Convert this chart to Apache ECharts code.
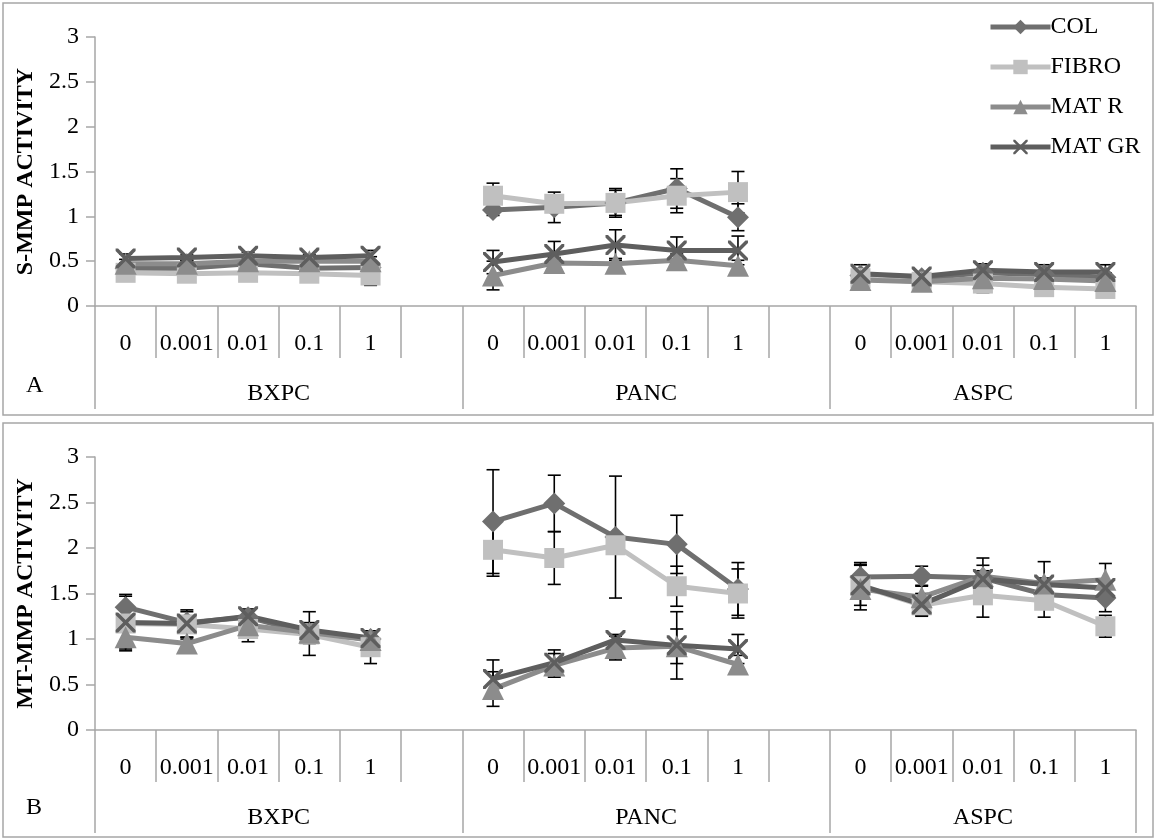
<!DOCTYPE html>
<html>
<head>
<meta charset="utf-8">
<script src="https://cdn.jsdelivr.net/npm/echarts@6/dist/echarts.min.js"></script>
<style>
  html, body { margin: 0; padding: 0; background: #fff; }
  #chart { width: 1156px; height: 840px; }
</style>
</head>
<body>
<div id="chart"></div>
<script>
// Doses (x categories) within each cell line group
const doses = ['0', '0.001', '0.01', '0.1', '1'];
const cellLines = ['BXPC', 'PANC', 'ASPC'];
const seriesNames = ['COL', 'FIBRO', 'MAT R', 'MAT GR'];

// Panel A: S-MMP activity (BXPC x5, PANC x5, ASPC x5)
const sCol      = [0.42, 0.42, 0.47, 0.42, 0.43,  1.07, 1.10, 1.15, 1.31, 0.99,  0.34, 0.31, 0.37, 0.35, 0.32];
const sFibro    = [0.37, 0.36, 0.37, 0.36, 0.34,  1.23, 1.14, 1.15, 1.23, 1.27,  0.31, 0.27, 0.25, 0.21, 0.19];
const sMatR     = [0.47, 0.47, 0.50, 0.50, 0.50,  0.34, 0.48, 0.47, 0.51, 0.45,  0.29, 0.27, 0.31, 0.30, 0.28];
const sMatGr    = [0.53, 0.54, 0.56, 0.54, 0.56,  0.49, 0.58, 0.68, 0.62, 0.62,  0.36, 0.33, 0.40, 0.38, 0.38];
const sColErr   = [0.05, 0.04, 0.05, 0.04, 0.05,  0.06, 0.17, 0.16, 0.22, 0.15,  0.06, 0.04, 0.05, 0.05, 0.05];
const sFibroErr = [0.04, 0.03, 0.03, 0.03, 0.11,  0.14, 0.05, 0.14, 0.19, 0.23,  0.05, 0.04, 0.10, 0.04, 0.04];
const sMatRErr  = [0.05, 0.04, 0.05, 0.04, 0.05,  0.16, 0.06, 0.06, 0.07, 0.06,  0.05, 0.04, 0.05, 0.05, 0.05];
const sMatGrErr = [0.05, 0.03, 0.04, 0.03, 0.06,  0.13, 0.14, 0.17, 0.15, 0.16,  0.10, 0.05, 0.07, 0.08, 0.08];

// Panel B: MT-MMP activity
const mCol      = [1.35, 1.18, 1.24, 1.06, 1.00,  2.29, 2.49, 2.12, 2.04, 1.55,  1.68, 1.69, 1.67, 1.49, 1.45];
const mFibro    = [1.17, 1.16, 1.11, 1.05, 0.91,  1.98, 1.89, 2.03, 1.58, 1.50,  1.58, 1.37, 1.48, 1.42, 1.14];
const mMatR     = [1.02, 0.95, 1.15, 1.07, 0.99,  0.45, 0.71, 0.90, 0.92, 0.72,  1.55, 1.46, 1.69, 1.61, 1.65];
const mMatGr    = [1.18, 1.17, 1.25, 1.10, 1.01,  0.56, 0.74, 0.99, 0.93, 0.89,  1.59, 1.38, 1.66, 1.60, 1.56];
const mColErr   = [0.14, 0.05, 0.09, 0.24, 0.05,  0.57, 0.31, 0.67, 0.32, 0.29,  0.14, 0.11, 0.14, 0.10, 0.15];
const mFibroErr = [0.30, 0.14, 0.14, 0.10, 0.18,  0.29, 0.29, 0.05, 0.22, 0.27,  0.26, 0.12, 0.24, 0.18, 0.12];
const mMatRErr  = [0.13, 0.05, 0.06, 0.08, 0.05,  0.19, 0.13, 0.13, 0.19, 0.10,  0.06, 0.13, 0.06, 0.06, 0.18];
const mMatGrErr = [0.05, 0.15, 0.06, 0.08, 0.05,  0.21, 0.14, 0.06, 0.37, 0.16,  0.22, 0.12, 0.23, 0.25, 0.08];

const panels = [
  { letter: 'A', title: 'S-MMP ACTIVITY',  values: [sCol, sFibro, sMatR, sMatGr], errors: [sColErr, sFibroErr, sMatRErr, sMatGrErr] },
  { letter: 'B', title: 'MT-MMP ACTIVITY', values: [mCol, mFibro, mMatR, mMatGr], errors: [mColErr, mFibroErr, mMatRErr, mMatGrErr] }
];

// Category slots: each cell line's doses followed by an empty spacer slot
const groupSize = doses.length + 1;
const categories = [];
cellLines.forEach((cl, g) => {
  doses.forEach(d => categories.push(cl + '|' + d));
  if (g < cellLines.length - 1) categories.push('gap' + g);
});
const slotOf = k => Math.floor(k / doses.length) * groupSize + (k % doses.length);
const toSlots = arr => {
  const out = categories.map(() => null);
  arr.forEach((v, k) => { out[slotOf(k)] = v; });
  return out;
};
// Centre of each cell-line span, in slot units (for the group label row)
const groupCentres = {};
cellLines.forEach((cl, g) => {
  const start = g * groupSize;
  const end = g < cellLines.length - 1 ? (g + 1) * groupSize : categories.length;
  groupCentres[((start + end) / 2).toFixed(1)] = cl;
});

const FONT = "'Liberation Serif', 'DejaVu Serif', serif";
const AXIS_GRAY = '#a6a6a6';
const colors = ['#6f6f6f', '#c0c0c0', '#8c8c8c', '#5e5e5e'];
const crossPath = 'path://M0,0 L2.5,0 L10,7.5 L17.5,0 L20,0 L20,2.5 L12.5,10 L20,17.5 L20,20 L17.5,20 L10,12.5 L2.5,20 L0,20 L0,17.5 L7.5,10 L0,2.5 Z';
const symbols = ['diamond', 'rect', 'triangle', crossPath];
const symbolSizes = [22, 20, 22, 20];

const grids = [
  { left: 95, right: 20, top: 37, height: 269, outerBoundsMode: 'none', containLabel: false },
  { left: 95, right: 20, top: 457, height: 273, outerBoundsMode: 'none', containLabel: false }
];

const xAxes = [], yAxes = [], series = [];
panels.forEach((p, pi) => {
  // dose labels with short separators
  xAxes.push({
    type: 'category', gridIndex: pi, position: 'bottom', data: categories,
    axisLine: { show: true, lineStyle: { color: AXIS_GRAY, width: 1.5 } },
    axisTick: { show: true, interval: 0, length: 52, lineStyle: { color: AXIS_GRAY, width: 1.5 } },
    axisLabel: {
      interval: 0, margin: 26, color: '#000', fontFamily: FONT, fontSize: 24,
      formatter: v => v.indexOf('|') >= 0 ? v.split('|')[1] : ''
    },
    splitLine: { show: false }
  });
  // long separators between cell line groups
  xAxes.push({
    type: 'category', gridIndex: pi, position: 'bottom', data: categories,
    axisLine: { show: false },
    axisTick: { show: true, interval: i => i % groupSize === 0, length: 103, lineStyle: { color: AXIS_GRAY, width: 1.5 } },
    axisLabel: { show: false },
    splitLine: { show: false }
  });
  // cell line names, centred under each group
  xAxes.push({
    type: 'value', gridIndex: pi, position: 'bottom', min: 0, max: categories.length, interval: 0.5,
    axisLine: { show: false }, axisTick: { show: false }, splitLine: { show: false },
    axisLabel: {
      margin: 76, color: '#000', fontFamily: FONT, fontSize: 24,
      showMinLabel: true, showMaxLabel: true,
      formatter: v => groupCentres[Number(v).toFixed(1)] || ''
    }
  });
  yAxes.push({
    type: 'value', gridIndex: pi, min: 0, max: 3, interval: 0.5,
    name: p.title, nameLocation: 'middle', nameRotate: 90, nameGap: 48,
    nameTextStyle: { color: '#000', fontFamily: FONT, fontSize: 24, fontWeight: 'bold' },
    axisLine: { show: true, lineStyle: { color: AXIS_GRAY, width: 1.5 } },
    axisTick: { show: true, length: 9, lineStyle: { color: AXIS_GRAY, width: 1.5 } },
    axisLabel: { margin: 16, color: '#000', fontFamily: FONT, fontSize: 24 },
    splitLine: { show: false }
  });

  // error bars (drawn beneath the lines)
  const errData = [];
  p.values.forEach((vals, si) => {
    vals.forEach((v, k) => errData.push([slotOf(k), v, p.errors[si][k]]));
  });
  series.push({
    type: 'custom', xAxisIndex: pi * 3, yAxisIndex: pi, z: 1,
    encode: { x: 0, y: 1 }, data: errData, silent: true,
    renderItem: (params, api) => {
      const x = api.value(0), v = api.value(1), e = api.value(2);
      const top = api.coord([x, v + e]);
      const bot = api.coord([x, v - e]);
      const half = 6.5;
      const style = { stroke: '#000', lineWidth: 1.6 };
      return {
        type: 'group', children: [
          { type: 'line', shape: { x1: top[0], y1: top[1], x2: bot[0], y2: bot[1] }, style },
          { type: 'line', shape: { x1: top[0] - half, y1: top[1], x2: top[0] + half, y2: top[1] }, style },
          { type: 'line', shape: { x1: bot[0] - half, y1: bot[1], x2: bot[0] + half, y2: bot[1] }, style }
        ]
      };
    }
  });

  p.values.forEach((vals, si) => {
    series.push({
      type: 'line', name: seriesNames[si], xAxisIndex: pi * 3, yAxisIndex: pi, z: 2,
      data: toSlots(vals), connectNulls: false,
      symbol: symbols[si], symbolSize: symbolSizes[si], showAllSymbol: true,
      lineStyle: { color: colors[si], width: 5 },
      itemStyle: { color: colors[si], borderWidth: 0 },
      emphasis: { disabled: true }, animation: false
    });
  });
});

const chart = echarts.init(document.getElementById('chart'), null, { renderer: 'canvas' });
chart.setOption({
  backgroundColor: '#fff',
  animation: false,
  grid: grids,
  xAxis: xAxes,
  yAxis: yAxes,
  series: series,
  legend: {
    data: seriesNames, orient: 'vertical', left: 983, top: 10,
    itemWidth: 60, itemHeight: 18, itemGap: 16,
    lineStyle: { width: 5 },
    textStyle: { color: '#000', fontFamily: FONT, fontSize: 24, padding: [0, 0, 0, -5] },
    selectedMode: false
  },
  graphic: [
    { type: 'rect', shape: { x: 3, y: 3, width: 1150, height: 412 }, style: { fill: 'none', stroke: AXIS_GRAY, lineWidth: 1.5 }, silent: true },
    { type: 'rect', shape: { x: 3, y: 423, width: 1150, height: 414 }, style: { fill: 'none', stroke: AXIS_GRAY, lineWidth: 1.5 }, silent: true },
    { type: 'text', left: 26, top: 374, style: { text: panels[0].letter, font: '24px ' + FONT, fill: '#000' } },
    { type: 'text', left: 26, top: 796, style: { text: panels[1].letter, font: '24px ' + FONT, fill: '#000' } }
  ]
});
</script>
</body>
</html>
